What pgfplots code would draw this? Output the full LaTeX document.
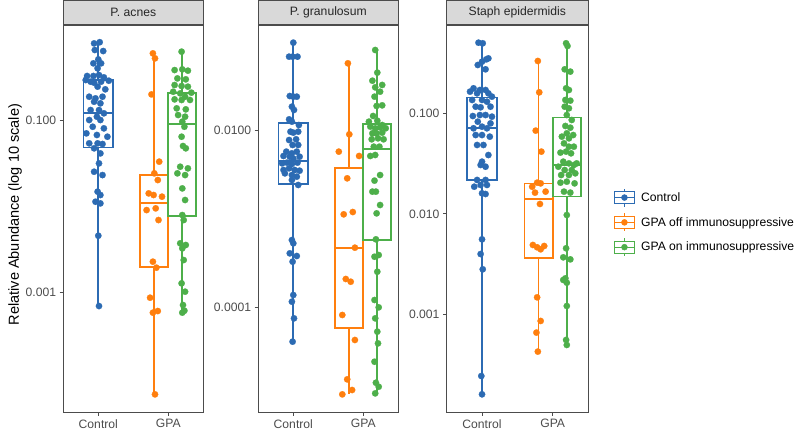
\documentclass[border=0pt]{standalone}
\usepackage{fontspec}
\setmainfont{Liberation Sans}
\usepackage{pgfplots}
\pgfplotsset{compat=1.18}

\definecolor{cCtrl}{HTML}{2C6BB3}
\definecolor{cOff}{HTML}{FF7F0E}
\definecolor{cOn}{HTML}{4DAF4A}
\definecolor{stripgray}{gray}{0.85}
\definecolor{frame}{gray}{0.3}

\newcommand{\smallfont}{\fontsize{12.2}{14}\selectfont}

% one box: x-left, x-centre, x-right, lower whisker, Q1, median, Q3, upper whisker, colour
\newcommand{\gbox}[9]{%
  \addplot[#9, line width=1.7bp] coordinates {(#2,#7)(#2,#8)};
  \addplot[#9, line width=1.7bp] coordinates {(#2,#5)(#2,#4)};
  \addplot[draw=#9, fill=white, line width=1.7bp] coordinates {(#1,#5)(#3,#5)(#3,#7)(#1,#7)} --cycle;
  \addplot[#9, line width=2.2bp] coordinates {(#1,#6)(#3,#6)};
}

% y values are log10(relative abundance)
\pgfplotsset{
  facet/.style={
    scale only axis, width=140bp, height=387bp, anchor=south west,
    xmin=0.5, xmax=2.5, xtick={1,2}, xticklabels={Control,GPA},
    tick align=outside, tick pos=left, major tick length=3.7bp,
    tick style={frame, line width=0.8bp},
    axis line style={frame, line width=0.8bp},
    tick label style={font=\smallfont, text=black!70},
    /pgf/number format/assume math mode=true,
    every axis title shift=0pt,
    title style={at={(0.5,1)}, anchor=south, yshift=0pt, draw=frame, fill=stripgray,
      line width=0.8bp, minimum width=140bp, minimum height=24.5bp, inner sep=0pt,
      font=\smallfont, text=black!85},
  },
  pts/.style={only marks, mark=*, mark size=3.2bp,
    mark options={draw=#1, fill=#1, line width=0.2bp}},
  legend image code/.code={
    \draw[#1, line width=1.3bp, fill=white] (0bp,-6bp) rectangle (20bp,6bp);
    \draw[#1, line width=1.3bp] (10bp,6bp)--(10bp,9bp) (10bp,-6bp)--(10bp,-9bp) (0bp,0bp)--(20bp,0bp);
    \fill[#1] (10bp,0bp) circle (3bp);
  },
}

\begin{document}
\begin{tikzpicture}
\path[use as bounding box] (0,0) rectangle (800bp,430bp);

% ---------------- P. acnes
\begin{axis}[facet, at={(63.3bp,18bp)}, title={P. acnes},
  ymin=-4.395, ymax=0.105, ytick={-1,-3}, yticklabels={0.100,0.001},
  ylabel={Relative Abundance (log 10 scale)},
  ylabel style={at={(axis description cs:-0.345,0.51)}, anchor=center, font=\fontsize{14.6}{16}\selectfont},
]
\gbox{0.79}{1}{1.21}{-3.163}{-1.318}{-0.922}{-0.535}{-0.095}{cCtrl}
\addplot[pts=cCtrl] coordinates {
(0.94,-0.109)(1.02,-0.095)(0.95,-0.186)(1.07,-0.198)(1.00,-0.295)(0.93,-0.341)(1.04,-0.341)
(0.99,-0.399)(0.84,-0.488)(0.93,-0.488)(1.01,-0.477)(1.08,-0.504)(0.89,-0.554)(0.82,-0.535)
(0.94,-0.566)(1.04,-0.554)(1.15,-0.543)(0.99,-0.612)(1.10,-0.643)(0.87,-0.729)(0.96,-0.748)
(1.06,-0.729)(0.94,-0.787)(1.03,-0.806)(0.89,-0.884)(1.01,-0.884)(1.08,-0.922)(0.98,-0.961)
(0.87,-1.0)(1.03,-1.0)(0.92,-1.078)(1.08,-1.097)(0.83,-1.155)(0.98,-1.174)(1.13,-1.194)
(0.87,-1.271)(0.99,-1.271)(1.06,-1.279)(0.94,-1.329)(1.03,-1.388)(1.01,-1.504)(0.94,-1.601)
(1.06,-1.640)(0.99,-1.833)(1.03,-1.872)(0.96,-1.950)(1.03,-1.969)(1.00,-2.345)(1.01,-3.163)
};
\gbox{1.6}{1.8}{2.0}{-4.190}{-2.705}{-1.965}{-1.636}{-0.225}{cOff}
\addplot[pts=cOff] coordinates {
(1.78,-0.225)(1.81,-0.283)(1.76,-0.702)(1.87,-1.484)(1.80,-1.620)(1.85,-1.698)(1.72,-1.853)
(1.79,-1.872)(1.91,-1.891)(1.69,-2.047)(1.82,-2.027)(1.86,-2.163)(1.78,-2.647)(1.83,-2.717)
(1.74,-3.066)(1.78,-3.240)(1.85,-3.221)(1.81,-4.190)
};
\gbox{2.0}{2.2}{2.4}{-3.240}{-2.116}{-1.050}{-0.682}{-0.205}{cOn}
\addplot[pts=cOn] coordinates {
(2.19,-0.205)(2.09,-0.419)(2.20,-0.411)(2.28,-0.426)(2.13,-0.516)(2.25,-0.527)(2.09,-0.593)
(2.19,-0.605)(2.28,-0.612)(2.07,-0.671)(2.17,-0.690)(2.33,-0.682)(2.24,-0.729)(2.09,-0.760)
(2.19,-0.767)(2.31,-0.767)(2.12,-0.864)(2.25,-0.876)(2.14,-0.942)(2.24,-0.961)(2.20,-1.019)
(2.23,-1.078)(2.19,-1.194)(2.21,-1.302)(2.25,-1.329)(2.17,-1.543)(2.28,-1.562)(2.13,-1.620)
(2.24,-1.640)(2.20,-1.795)(2.24,-1.930)(2.20,-2.105)(2.22,-2.163)(2.17,-2.434)(2.25,-2.453)
(2.20,-2.492)(2.22,-2.628)(2.19,-2.899)(2.24,-2.996)(2.21,-3.151)(2.23,-3.217)(2.20,-3.240)
};
\end{axis}

% ---------------- P. granulosum
\begin{axis}[facet, at={(258.3bp,18bp)}, title={P. granulosum},
  ymin=-5.180, ymax=-0.816, ytick={-2,-4}, yticklabels={0.0100,0.0001},
]
\gbox{0.79}{1}{1.21}{-4.387}{-2.609}{-2.346}{-1.925}{-1.015}{cCtrl}
\addplot[pts=cCtrl] coordinates {
(1.00,-1.015)(0.94,-1.173)(0.99,-1.173)(1.06,-1.173)(0.95,-1.617)(1.00,-1.624)(1.05,-1.624)
(0.98,-1.737)(1.01,-1.774)(0.94,-1.880)(1.08,-1.944)(0.98,-1.906)(0.96,-2.019)(1.00,-2.030)
(1.07,-2.019)(0.94,-2.113)(1.04,-2.105)(0.99,-2.169)(1.07,-2.169)(0.90,-2.244)(0.98,-2.263)
(1.05,-2.244)(0.86,-2.293)(0.95,-2.301)(1.00,-2.323)(1.09,-2.301)(0.84,-2.376)(0.91,-2.368)
(0.98,-2.383)(1.06,-2.368)(0.86,-2.451)(0.94,-2.432)(1.02,-2.451)(1.09,-2.459)(0.88,-2.489)
(0.98,-2.508)(1.05,-2.526)(0.98,-2.564)(1.07,-2.620)(0.98,-3.241)(1.00,-3.278)(0.95,-3.391)
(1.05,-3.421)(0.99,-3.485)(1.00,-3.861)(0.98,-3.936)(1.01,-4.124)(0.99,-4.387)
};
\gbox{1.6}{1.8}{2.0}{-4.981}{-4.229}{-3.327}{-2.425}{-1.248}{cOff}
\addplot[pts=cOff] coordinates {
(1.78,-1.248)(1.80,-2.049)(1.65,-2.244)(1.94,-2.293)(1.77,-2.545)(1.72,-2.951)(1.85,-2.925)
(1.88,-3.327)(1.75,-3.680)(1.82,-3.711)(1.70,-4.086)(1.88,-4.368)(1.77,-4.812)(1.84,-4.932)
(1.70,-4.981)
};
\gbox{2.0}{2.2}{2.4}{-4.970}{-3.241}{-2.218}{-1.936}{-1.098}{cOn}
\addplot[pts=cOn] coordinates {
(2.17,-1.098)(2.20,-1.353)(2.13,-1.444)(2.27,-1.492)(2.17,-1.519)(2.24,-1.568)(2.16,-1.624)
(2.19,-1.729)(2.27,-1.722)(2.14,-1.842)(2.08,-1.906)(2.20,-1.895)(2.27,-1.944)(2.32,-1.981)
(2.10,-1.962)(2.17,-1.981)(2.24,-1.970)(2.13,-2.038)(2.19,-2.038)(2.27,-2.030)(2.12,-2.105)
(2.21,-2.094)(2.29,-2.105)(2.15,-2.188)(2.23,-2.188)(2.10,-2.293)(2.17,-2.282)(2.24,-2.508)
(2.16,-2.571)(2.13,-2.695)(2.18,-2.695)(2.24,-2.846)(2.19,-2.940)(2.18,-3.233)(2.16,-3.429)
(2.22,-3.410)(2.20,-3.598)(2.16,-3.917)(2.22,-4.000)(2.17,-4.124)(2.20,-4.274)(2.21,-4.406)
(2.16,-4.613)(2.18,-4.850)(2.22,-4.895)(2.17,-4.970)
};
\end{axis}

% ---------------- Staph epidermidis
\begin{axis}[facet, at={(446.7bp,18bp)}, width=141.3bp, title={Staph epidermidis},
  title style={minimum width=141.3bp},
  ymin=-3.972, ymax=-0.121, ytick={-1,-2,-3}, yticklabels={0.100,0.010,0.001},
  legend style={draw=none, fill=none, at={(axis description cs:1.16,0.49)}, anchor=west,
    font=\smallfont, row sep=5.5bp, cells={anchor=west},
    /tikz/every odd column/.append style={column sep=4bp}},
  legend cell align=left,
]
\addlegendimage{cCtrl}\addlegendentry{Control}
\addlegendimage{cOff}\addlegendentry{GPA off immunosuppressive}
\addlegendimage{cOn}\addlegendentry{GPA on immunosuppressive}
\gbox{0.79}{1}{1.21}{-3.796}{-1.663}{-1.143}{-0.841}{-0.297}{cCtrl}
\addplot[pts=cCtrl] coordinates {
(0.95,-0.297)(1.01,-0.303)(0.94,-0.519)(1.00,-0.486)(1.06,-0.463)(1.09,-0.453)(1.05,-0.562)
(0.88,-0.751)(0.97,-0.768)(1.05,-0.768)(0.83,-0.784)(0.93,-0.801)(1.09,-0.801)(1.14,-0.834)
(0.86,-0.867)(1.00,-0.867)(1.07,-0.884)(0.91,-0.934)(0.98,-0.940)(1.12,-0.934)(0.87,-1.027)
(0.97,-1.017)(1.05,-1.017)(1.14,-1.033)(0.94,-1.083)(1.12,-1.100)(0.88,-1.149)(1.00,-1.133)
(1.07,-1.149)(0.91,-1.216)(1.00,-1.216)(1.11,-1.232)(0.93,-1.315)(1.02,-1.315)(1.09,-1.415)
(1.00,-1.481)(0.98,-1.514)(1.05,-1.531)(0.93,-1.663)(1.05,-1.663)(0.89,-1.730)(0.98,-1.713)
(1.07,-1.713)(1.00,-1.796)(1.05,-1.803)(1.00,-2.254)(0.98,-2.400)(1.01,-2.552)(0.99,-3.614)
(1.00,-3.796)
};
\gbox{1.6}{1.8}{2.0}{-3.371}{-2.443}{-1.856}{-1.697}{-0.479}{cOff}
\addplot[pts=cOff] coordinates {
(1.79,-0.479)(1.81,-0.791)(1.76,-1.172)(1.84,-1.381)(1.78,-1.690)(1.83,-1.697)(1.71,-1.730)
(1.75,-1.789)(1.90,-1.779)(1.82,-1.902)(1.72,-2.310)(1.88,-2.320)(1.78,-2.333)(1.83,-2.353)
(1.78,-2.831)(1.83,-3.066)(1.77,-3.182)(1.79,-3.371)
};
\gbox{2.0}{2.2}{2.4}{-3.305}{-1.829}{-1.514}{-1.040}{-0.303}{cOn}
\addplot[pts=cOn] coordinates {
(2.19,-0.303)(2.21,-0.330)(2.17,-0.562)(2.25,-0.585)(2.19,-0.751)(2.23,-0.768)(2.18,-0.867)
(2.25,-0.874)(2.17,-0.934)(2.23,-0.950)(2.20,-1.017)(2.27,-1.066)(2.18,-1.126)(2.25,-1.143)
(2.20,-1.199)(2.29,-1.216)(2.13,-1.232)(2.23,-1.249)(2.16,-1.299)(2.23,-1.332)(2.30,-1.332)
(2.11,-1.391)(2.19,-1.381)(2.26,-1.398)(2.15,-1.481)(2.23,-1.498)(2.30,-1.514)(2.34,-1.498)
(2.08,-1.531)(2.17,-1.564)(2.27,-1.564)(2.12,-1.614)(2.23,-1.614)(2.32,-1.597)(2.11,-1.690)
(2.20,-1.680)(2.31,-1.697)(2.16,-1.779)(2.25,-1.789)(2.20,-2.012)(2.19,-2.343)(2.15,-2.433)
(2.25,-2.453)(2.18,-2.642)(2.15,-2.658)(2.20,-2.685)(2.20,-2.917)(2.19,-3.255)(2.20,-3.305)
};
\end{axis}
\end{tikzpicture}
\end{document}
